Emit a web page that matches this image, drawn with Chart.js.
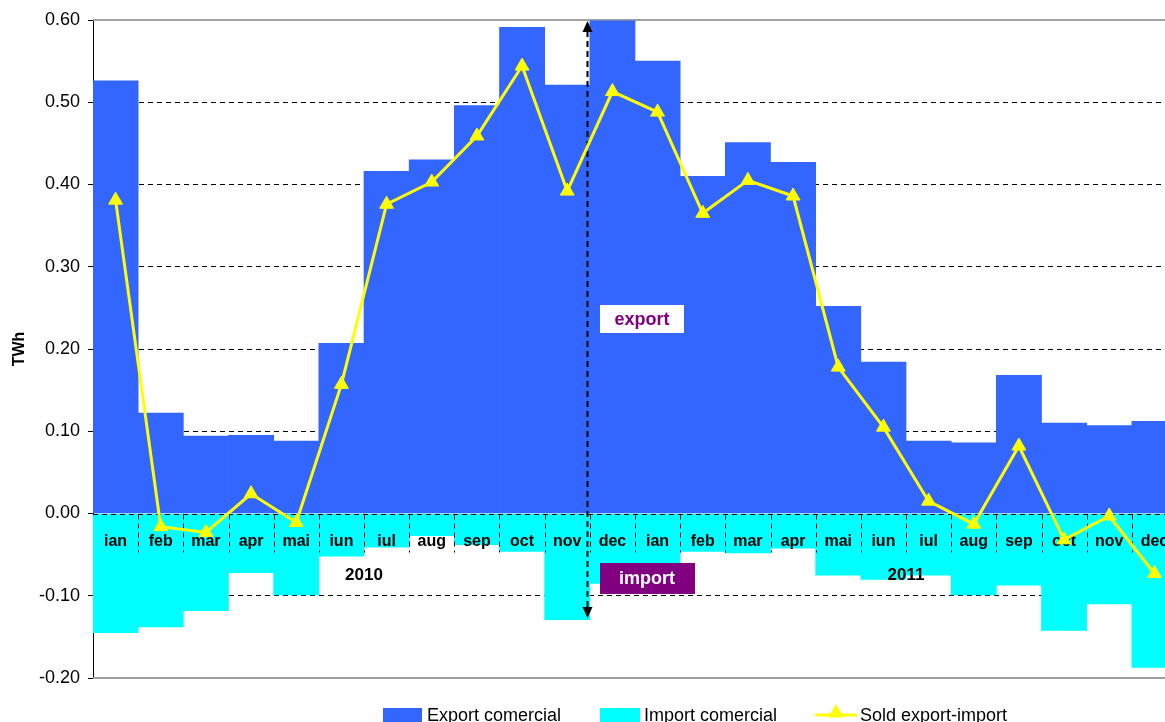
<!DOCTYPE html>
<html>
<head>
<meta charset="utf-8">
<title>Export / import comercial 2010-2011</title>
<script src="https://cdn.jsdelivr.net/npm/chart.js@4.4.0/dist/chart.umd.min.js"></script>
<style>
  html, body { margin: 0; padding: 0; background: #fff; overflow: hidden; }
  #wrap { width: 1165px; height: 722px; overflow: hidden; }
</style>
</head>
<body>
<div id="wrap"><canvas id="chart" width="1186" height="722"></canvas></div>
<script>
// --- Data (TWh) ---
const months = ['ian', 'feb', 'mar', 'apr', 'mai', 'iun', 'iul', 'aug', 'sep', 'oct', 'nov', 'dec',
                'ian', 'feb', 'mar', 'apr', 'mai', 'iun', 'iul', 'aug', 'sep', 'oct', 'nov', 'dec'];
const years = ['2010', '2011'];
const exportVals = [0.526, 0.122, 0.094, 0.095, 0.088, 0.207, 0.416, 0.430, 0.496, 0.591, 0.521, 0.599,
                    0.550, 0.410, 0.451, 0.427, 0.252, 0.184, 0.088, 0.086, 0.168, 0.110, 0.107, 0.112];
const importVals = [-0.145, -0.138, -0.118, -0.072, -0.099, -0.052, -0.041, -0.027, -0.038, -0.046, -0.129, -0.085,
                    -0.062, -0.046, -0.048, -0.042, -0.075, -0.080, -0.075, -0.099, -0.087, -0.142, -0.110, -0.187];
const soldVals = [0.381, -0.016, -0.023, 0.024, -0.011, 0.157, 0.376, 0.403, 0.459, 0.544, 0.392, 0.513,
                  0.488, 0.365, 0.405, 0.386, 0.178, 0.105, 0.015, -0.013, 0.082, -0.032, -0.003, -0.073];
const seriesNames = ['Export comercial', 'Import comercial', 'Sold export-import'];
const yMin = -0.2, yMax = 0.6, yStep = 0.1;

const FONT = 'Arial, "Liberation Sans", Helvetica, sans-serif';
const BLUE = '#3366FF', CYAN = '#00FFFF', YELLOW = '#FFFF00', PURPLE = '#800080';

Chart.defaults.font.family = FONT;
Chart.defaults.color = '#000';

function triangle(ctx, x, y, r) {
  ctx.beginPath();
  ctx.moveTo(x, y - r);
  ctx.lineTo(x + r * 0.866, y + r * 0.5);
  ctx.lineTo(x - r * 0.866, y + r * 0.5);
  ctx.closePath();
  ctx.fill();
}

function arrowHead(ctx, x, y, dir) {
  // dir = -1 points up, 1 points down
  ctx.beginPath();
  ctx.moveTo(x, y);
  ctx.lineTo(x - 5, y - dir * 11);
  ctx.lineTo(x + 5, y - dir * 11);
  ctx.closePath();
  ctx.fill();
}

// grid helpers: edges and zero line are drawn by the plugin
const isSpecial = (v) => Math.abs(v - yMax) < 1e-6 || Math.abs(v - yMin) < 1e-6 || Math.abs(v) < 1e-6;

const overlay = {
  id: 'overlay',
  beforeDatasetsDraw(chart) {
    const {ctx, chartArea: a} = chart;
    ctx.save();
    ctx.strokeStyle = '#a0a0a0';
    ctx.lineWidth = 2;
    ctx.beginPath();
    ctx.moveTo(a.left, a.top); ctx.lineTo(a.right, a.top);
    ctx.moveTo(a.left, a.bottom); ctx.lineTo(a.right, a.bottom);
    ctx.stroke();
    ctx.restore();
  },
  beforeDatasetDraw(chart, args) {
    if (args.index !== 2) return; // draw just before the line series
    const {ctx, chartArea: a, scales: {x, y}} = chart;
    const y0 = y.getPixelForValue(0);
    const half = (x.getPixelForValue(1) - x.getPixelForValue(0)) / 2;
    const yz = Math.round(y0) + 0.5;

    ctx.save();
    // zero line + month separators
    ctx.strokeStyle = '#000';
    ctx.lineWidth = 1;
    ctx.setLineDash([5, 4]);
    ctx.beginPath();
    ctx.moveTo(a.left, yz); ctx.lineTo(a.right, yz);
    for (let i = 1; i < months.length; i++) {
      const bx = Math.round(x.getPixelForValue(i) - half) + 0.5;
      ctx.moveTo(bx, yz); ctx.lineTo(bx, yz + 38);
    }
    ctx.stroke();
    ctx.setLineDash([]);

    // month names and years
    ctx.fillStyle = '#000';
    ctx.textAlign = 'center';
    ctx.textBaseline = 'alphabetic';
    ctx.font = 'bold 16px ' + FONT;
    months.forEach((m, i) => ctx.fillText(m, x.getPixelForValue(i), y0 + 32));
    ctx.font = 'bold 17px ' + FONT;
    ctx.fillText(years[0], x.getPixelForValue(5.5), y0 + 66);
    ctx.fillText(years[1], x.getPixelForValue(17.5), y0 + 66);

    // dashed double arrow between nov and dec 2010
    const ax = Math.round(x.getPixelForValue(10.5) - 3) + 0.5;
    const top = y.getPixelForValue(yMax) + 1;
    const bot = y.getPixelForValue(-0.127);
    ctx.lineWidth = 2;
    ctx.setLineDash([6, 4]);
    ctx.beginPath();
    ctx.moveTo(ax, top + 10); ctx.lineTo(ax, bot - 10);
    ctx.stroke();
    ctx.setLineDash([]);
    arrowHead(ctx, ax, top, -1);
    arrowHead(ctx, ax, bot, 1);

    // "export" / "import" boxes
    const bx0 = Math.round(x.getPixelForValue(10.5)) + 10;
    const ey = y.getPixelForValue(0.236);
    ctx.fillStyle = '#fff';
    ctx.fillRect(bx0, Math.round(ey - 14), 84, 28);
    ctx.fillStyle = PURPLE;
    ctx.font = 'bold 18px ' + FONT;
    ctx.fillText('export', bx0 + 42, Math.round(ey) + 6);

    const iy = y.getPixelForValue(-0.078);
    ctx.fillStyle = PURPLE;
    ctx.fillRect(bx0, Math.round(iy - 15), 95, 31);
    ctx.fillStyle = '#fff';
    ctx.fillText('import', bx0 + 47, Math.round(iy) + 6);
    ctx.restore();
  },
  afterDraw(chart) {
    // legend along the bottom edge
    const {ctx} = chart;
    ctx.save();
    ctx.font = '18px ' + FONT;
    ctx.textAlign = 'left';
    ctx.textBaseline = 'alphabetic';
    ctx.fillStyle = BLUE;
    ctx.fillRect(383, 708, 39, 16);
    ctx.fillStyle = CYAN;
    ctx.fillRect(600, 708, 40, 16);
    ctx.strokeStyle = YELLOW;
    ctx.fillStyle = YELLOW;
    ctx.lineWidth = 3;
    ctx.beginPath();
    ctx.moveTo(815, 715); ctx.lineTo(857, 715);
    ctx.stroke();
    triangle(ctx, 836, 713, 9);
    ctx.fillStyle = '#000';
    ctx.fillText(seriesNames[0], 427, 721);
    ctx.fillText(seriesNames[1], 644, 721);
    ctx.fillText(seriesNames[2], 860, 721);
    ctx.restore();
  }
};

const ctx = document.getElementById('chart').getContext('2d');
const chart = new Chart(ctx, {
  data: {
    labels: months,
    datasets: [
      { type: 'bar', label: seriesNames[0], data: exportVals, backgroundColor: BLUE, borderWidth: 0,
        categoryPercentage: 1, barPercentage: 1, order: 1 },
      { type: 'bar', label: seriesNames[1], data: importVals, backgroundColor: CYAN, borderWidth: 0,
        categoryPercentage: 1, barPercentage: 1, order: 1 },
      { type: 'line', label: seriesNames[2], data: soldVals, borderColor: YELLOW, backgroundColor: YELLOW,
        borderWidth: 3, tension: 0, pointStyle: 'triangle', pointRadius: 8, pointBorderWidth: 1,
        pointBackgroundColor: YELLOW, pointBorderColor: YELLOW, order: 0, clip: false }
    ]
  },
  options: {
    responsive: false,
    animation: false,
    devicePixelRatio: 1,
    layout: { padding: { top: 20, right: 2, bottom: 44, left: 0 } },
    plugins: { legend: { display: false }, tooltip: { enabled: false } },
    scales: {
      x: { type: 'category', display: false, stacked: true, offset: true },
      y: {
        min: yMin, max: yMax,
        afterFit(scale) { scale.width = 93; },
        ticks: { stepSize: yStep, padding: 8, color: '#000', font: { size: 18 },
                 callback: (v) => v.toFixed(2) },
        grid: {
          color: (c) => (c.tick && isSpecial(c.tick.value)) ? 'rgba(0,0,0,0)' : '#000',
          tickColor: '#000', tickLength: 5, lineWidth: 1
        },
        border: { display: true, color: '#000', width: 1, dash: [5, 4] },
        title: { display: true, text: 'TWh', color: '#000', font: { size: 16, weight: 'bold' },
                 padding: { top: 10, bottom: 0 } }
      }
    }
  },
  plugins: [overlay]
});
</script>
</body>
</html>
